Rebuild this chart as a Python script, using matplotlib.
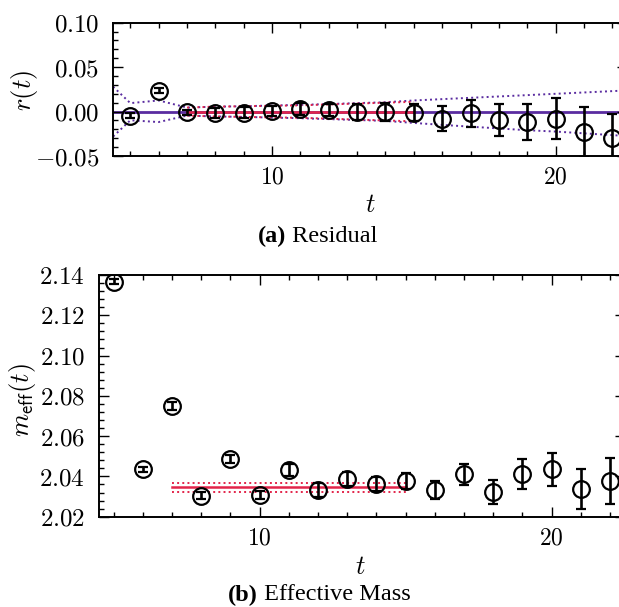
import matplotlib
matplotlib.use("Agg")
import matplotlib.pyplot as plt
import numpy as np
from matplotlib.ticker import FixedLocator, MultipleLocator, FuncFormatter

plt.rcParams["mathtext.fontset"] = "cm"
plt.rcParams["font.family"] = "DejaVu Serif"

# %% residual data
t_res = np.arange(5, 23)
r_val = [-0.0045, 0.0237, -0.0007, -0.0015, -0.0011, 0.0005, 0.0027, 0.0019, -0.0003,
         -0.0007, -0.0011, -0.0082, -0.0020, -0.0094, -0.0120, -0.0082, -0.0226, -0.0293]
r_err = [0.003, 0.003, 0.003, 0.006, 0.006, 0.006, 0.007, 0.007, 0.009,
         0.0098, 0.010, 0.014, 0.0154, 0.0177, 0.0203, 0.023, 0.028, 0.027]

# error band of the full fit
t_band = np.arange(4, 24)
band_hi = [0.040, 0.0095, 0.0125, 0.0045, 0.0055, 0.006, 0.0068, 0.0075, 0.0085, 0.0095,
           0.0105, 0.0125, 0.014, 0.0155, 0.017, 0.0185, 0.020, 0.0215, 0.023, 0.0245]
band_lo = [-0.040, -0.0098, -0.0118, -0.0045, -0.0055, -0.006, -0.0068, -0.0075, -0.0085, -0.0095,
           -0.0105, -0.0128, -0.015, -0.017, -0.019, -0.021, -0.0225, -0.0245, -0.0265, -0.0285]

# plateau fit window
t_fit = np.arange(7, 16)
fit_err = [0.0045, 0.0055, 0.006, 0.0065, 0.007, 0.008, 0.009, 0.010, 0.011]

# %% effective mass data
t_m = np.arange(5, 23)
m_val = [2.1367, 2.0436, 2.0750, 2.0304, 2.0488, 2.0306, 2.0432, 2.0333, 2.0387,
         2.0361, 2.0379, 2.0333, 2.0410, 2.0321, 2.0413, 2.0435, 2.0338, 2.0377]
m_err = [0.0012, 0.0013, 0.0018, 0.0018, 0.0020, 0.0020, 0.0030, 0.0035, 0.0034,
         0.0035, 0.0040, 0.0046, 0.0052, 0.0060, 0.0074, 0.0083, 0.0098, 0.0113]
m_fit = 2.0346
m_fit_err = 0.0021

RED = "#e3244a"
PURPLE = "#5a2ca0"
W, H = 619, 607


def box(l, r, b, t):
    return [l / W, 1 - b / H, (r - l) / W, (b - t) / H]


def style(ax):
    ax.tick_params(which="both", direction="in", top=True, right=True, width=1.0)
    ax.tick_params(which="major", length=7)
    ax.tick_params(which="minor", length=3.5)
    ax.tick_params(axis="y", pad=10, labelsize=18)
    ax.tick_params(axis="x", pad=7, labelsize=17)
    ax.xaxis.set_major_locator(FixedLocator([10, 20]))
    ax.xaxis.set_minor_locator(MultipleLocator(1))
    ax.xaxis.set_major_formatter(FuncFormatter(lambda v, p: r"$\mathsf{%d}$" % v))
    for s in ax.spines.values():
        s.set_linewidth(1.4)


def points(ax, x, y, e):
    ax.errorbar(x, y, yerr=e, fmt="o", mfc="none", mec="black", mew=1.6, ms=12,
                ecolor="black", elinewidth=1.9, capsize=3.8, capthick=1.9, zorder=5)


fig = plt.figure(figsize=(6.19, 6.07), dpi=100)

# %% (a) residual
ax1 = fig.add_axes(box(113.3, 626.5, 156, 22.7))
ax1.axhline(0, color=PURPLE, lw=2.0, zorder=1)
ax1.plot(t_band, band_hi, ":", color=PURPLE, lw=1.4, zorder=1)
ax1.plot(t_band, band_lo, ":", color=PURPLE, lw=1.4, zorder=1)
ax1.plot(t_fit, np.zeros(len(t_fit)), "-", color=RED, lw=1.8, zorder=2)
ax1.plot(t_fit, fit_err, ":", color=RED, lw=1.4, zorder=2)
ax1.plot(t_fit, -np.array(fit_err), ":", color=RED, lw=1.4, zorder=2)
points(ax1, t_res, r_val, r_err)
ax1.set_xlim(4.4, 22.5)
ax1.set_ylim(-0.05, 0.10)
style(ax1)
ax1.yaxis.set_major_locator(MultipleLocator(0.05))
ax1.yaxis.set_minor_locator(MultipleLocator(0.01))
ax1.yaxis.set_major_formatter(FuncFormatter(lambda v, p: r"$%.2f$" % v))

# %% (b) effective mass
ax2 = fig.add_axes(box(99.1, 624.7, 516.7, 275))
ax2.plot([t_fit[0], t_fit[-1]], [m_fit, m_fit], "-", color=RED, lw=1.8, zorder=2)
ax2.plot([t_fit[0], t_fit[-1]], [m_fit + m_fit_err] * 2, ":", color=RED, lw=1.4, zorder=2)
ax2.plot([t_fit[0], t_fit[-1]], [m_fit - m_fit_err] * 2, ":", color=RED, lw=1.4, zorder=2)
points(ax2, t_m, m_val, m_err)
ax2.set_xlim(4.5, 22.5)
ax2.set_ylim(2.02, 2.14)
style(ax2)
ax2.yaxis.set_major_locator(MultipleLocator(0.02))
ax2.yaxis.set_minor_locator(MultipleLocator(0.004))
ax2.yaxis.set_major_formatter(FuncFormatter(lambda v, p: r"$%.2f$" % v))

# %% labels and captions
fig.text(370 / W, 1 - 205 / H, r"$t$", fontsize=19, ha="center", va="center")
fig.text(25 / W, 1 - 90 / H, r"$r(t)$", fontsize=19, ha="center", va="center", rotation=90)
fig.text(360 / W, 1 - 566 / H, r"$t$", fontsize=19, ha="center", va="center")
fig.text(22 / W, 1 - 400 / H, r"$m_{\mathsf{eff}}(t)$", fontsize=19, ha="center",
         va="center", rotation=90)

cap_font = ["Liberation Serif", "DejaVu Serif"]
fig.text(286 / W, 1 - 236 / H, "(a)", fontsize=17.5, ha="right", va="center",
         family=cap_font, weight="bold")
fig.text(286 / W, 1 - 236 / H, " Residual", fontsize=17.5, ha="left", va="center",
         family=cap_font)
fig.text(258 / W, 1 - 595 / H, "(b)", fontsize=17.5, ha="right", va="center",
         family=cap_font, weight="bold")
fig.text(258 / W, 1 - 595 / H, " Effective Mass", fontsize=17.5, ha="left", va="center",
         family=cap_font)

fig.savefig("out.png", dpi=100)
